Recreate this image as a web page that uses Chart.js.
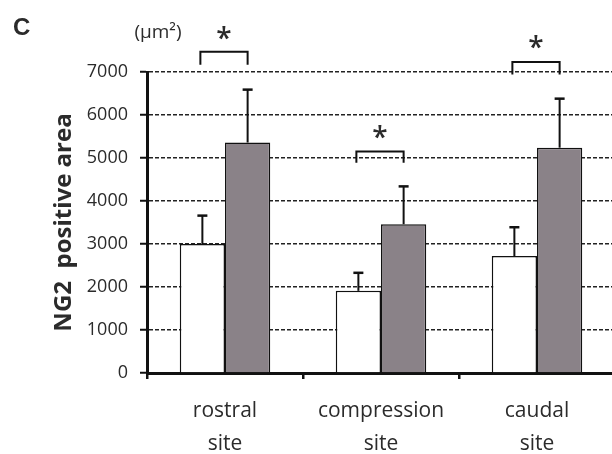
<!DOCTYPE html>
<html lang="en">
<head>
  <meta charset="UTF-8">
  <title>NG2 positive area</title>
  <script src="https://cdn.jsdelivr.net/npm/chart.js"></script>
  <style>
    html, body { margin: 0; padding: 0; background: #fff; overflow: hidden; }
    #wrap { width: 625px; height: 454px; }
  </style>
</head>
<body>
  <div id="wrap"><canvas id="grafica" width="625" height="454"></canvas></div>
  <script>
    // data
    var sitios = [['rostral', 'site'], ['compression', 'site'], ['caudal', 'site']];
    var control = [3000, 1910, 2720];
    var controlErr = [660, 420, 670];
    var lesion = [5360, 3460, 5240];
    var lesionErr = [1230, 880, 1140];
    var yTicks = [0, 1000, 2000, 3000, 4000, 5000, 6000, 7000];

    // significance brackets (value units): top of bracket, bottom of legs, star
    var bracketTop = [7470, 5150, 7230];
    var bracketLeg = [7170, 4890, 6940];
    var starLevel = [7900, 5600, 7700];

    var textColor = '#2b2b2b';
    var fuente = "'Open Sans', sans-serif";

    // error bars, brackets, stars, unit and panel letter
    var extras = {
      id: 'extras',
      afterDatasetsDraw: function (chart) {
        var ctx = chart.ctx;
        var y = chart.scales.y;
        var series = [[control, controlErr], [lesion, lesionErr]];
        ctx.save();
        ctx.strokeStyle = '#111';
        series.forEach(function (s, di) {
          var meta = chart.getDatasetMeta(di);
          meta.data.forEach(function (bar, i) {
            var y0 = y.getPixelForValue(s[0][i]);
            var y1 = y.getPixelForValue(s[0][i] + s[1][i]);
            ctx.lineWidth = 2;
            ctx.beginPath();
            ctx.moveTo(bar.x, y0);
            ctx.lineTo(bar.x, y1);
            ctx.stroke();
            ctx.lineWidth = 2.5;
            ctx.beginPath();
            ctx.moveTo(bar.x - 5, y1);
            ctx.lineTo(bar.x + 5, y1);
            ctx.stroke();
          });
        });
        var m0 = chart.getDatasetMeta(0), m1 = chart.getDatasetMeta(1);
        ctx.fillStyle = textColor;
        ctx.textAlign = 'center';
        ctx.textBaseline = 'middle';
        ctx.font = '600 28px ' + fuente;
        for (var i = 0; i < sitios.length; i++) {
          var xa = m0.data[i].x - 2, xb = m1.data[i].x;
          var yt = y.getPixelForValue(bracketTop[i]);
          var yl = y.getPixelForValue(bracketLeg[i]);
          ctx.lineWidth = 2;
          ctx.beginPath();
          ctx.moveTo(xa, yl);
          ctx.lineTo(xa, yt);
          ctx.lineTo(xb, yt);
          ctx.lineTo(xb, yl);
          ctx.stroke();
          ctx.fillText('*', (xa + xb) / 2, y.getPixelForValue(starLevel[i]) + 7);
        }
        var area = chart.chartArea;
        ctx.font = '19px ' + fuente;
        ctx.fillText('(\u00b5m\u00b2)', area.left + 11, 33);
        ctx.font = "bold 24px 'Liberation Sans', sans-serif";
        ctx.textAlign = 'left';
        ctx.fillText('C', 13, 28);
        ctx.restore();
      }
    };

    var grafica = new Chart(document.getElementById('grafica'), {
      type: 'bar',
      data: {
        labels: sitios,
        datasets: [
          { label: 'control', data: control, backgroundColor: '#ffffff', borderColor: '#111', borderWidth: 1.5 },
          { label: 'lesion', data: lesion, backgroundColor: '#8a8288', borderColor: '#111', borderWidth: 1.5 }
        ]
      },
      options: {
        responsive: false,
        animation: false,
        layout: { padding: { left: 46, top: 72, right: 10, bottom: 0 } },
        datasets: { bar: { categoryPercentage: 0.58, barPercentage: 1.0 } },
        plugins: { legend: { display: false }, tooltip: { enabled: false } },
        scales: {
          x: {
            offset: true,
            afterFit: function (s) { s.height = 81; },
            grid: { display: true, drawOnChartArea: false, offset: true, color: '#111', lineWidth: 2.5, tickLength: 6 },
            border: { display: true, color: '#111', width: 3 },
            ticks: { color: textColor, padding: 15, font: { family: fuente, size: 21, lineHeight: 1.58 } }
          },
          y: {
            min: 0,
            max: 7000,
            afterFit: function (s) { s.width = 101; },
            afterBuildTicks: function (s) { s.ticks = yTicks.map(function (v) { return { value: v }; }); },
            title: { display: true, text: 'NG2  positive area', color: textColor, font: { family: fuente, size: 24, weight: 'bold' }, padding: { top: 4, bottom: 0 } },
            grid: { color: '#222', lineWidth: 1.5, tickLength: 7, tickColor: '#111', tickWidth: 2, tickBorderDash: [] },
            border: { display: true, color: '#111', width: 3, dash: [4, 2] },
            ticks: {
              color: textColor, padding: 12, font: { family: fuente, size: 18 },
              callback: function (v) { return String(v); }
            }
          }
        }
      },
      plugins: [extras]
    });
  </script>
</body>
</html>
